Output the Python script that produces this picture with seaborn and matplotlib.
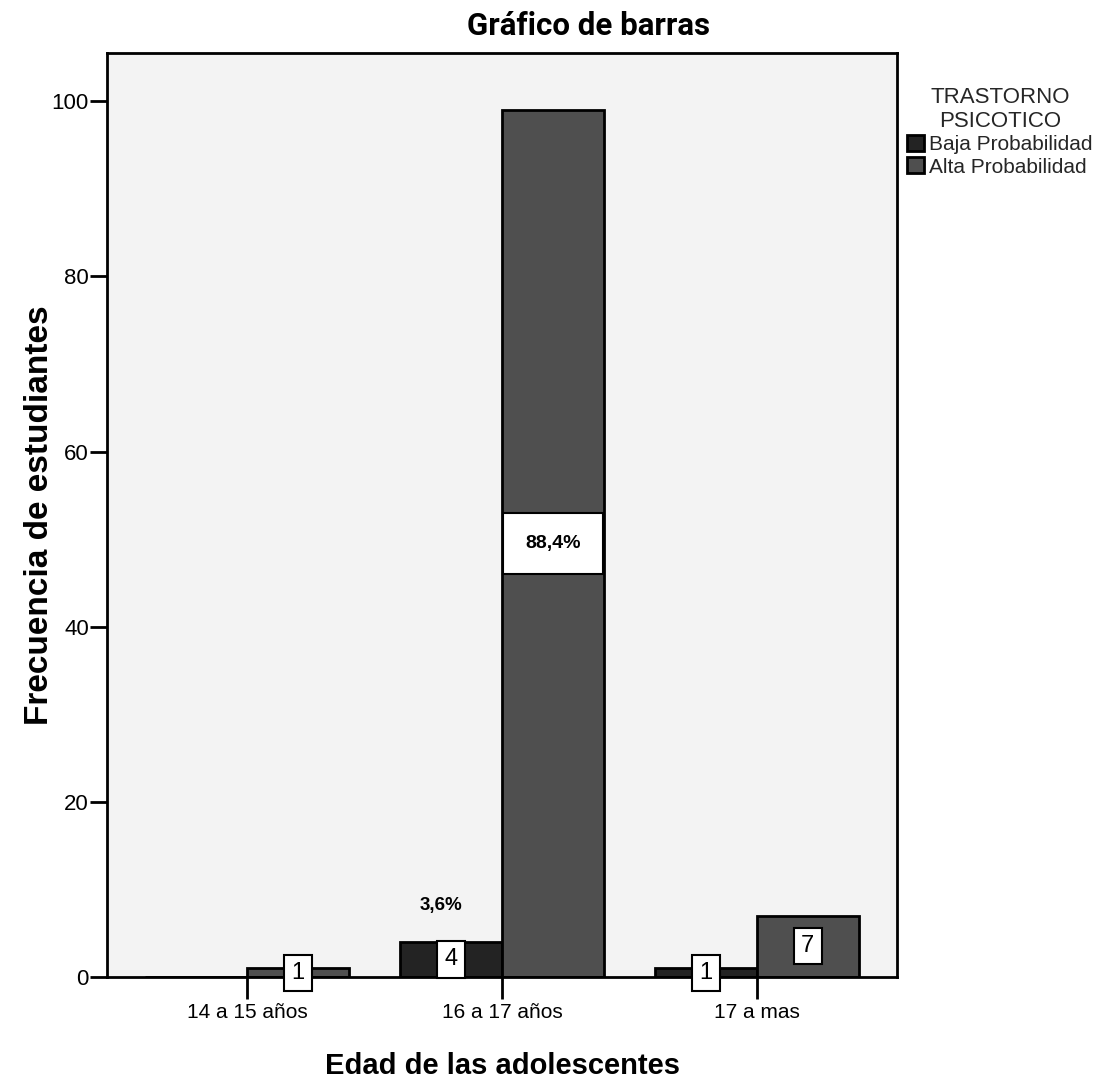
import matplotlib
matplotlib.use("Agg")
import matplotlib.pyplot as plt
import seaborn as sns
import pandas as pd

# ---- data ----
categories = ["14 a 15 años", "16 a 17 años", "17 a mas"]
series_names = ["Baja Probabilidad", "Alta Probabilidad"]
baja_values = [0, 4, 1]
alta_values = [1, 99, 7]
baja_labels = ["", "4", "1"]
alta_labels = ["1", "88,4%", "7"]
extra_note = "3,6%"
y_ticks = [0, 20, 40, 60, 80, 100]

sns.set_theme(style="white")
ARIAL = ["Liberation Sans", "DejaVu Sans"]
plt.rcParams["font.family"] = ARIAL

df = pd.DataFrame({
    "Edad": categories * 2,
    "Frecuencia": baja_values + alta_values,
    "Trastorno": [series_names[0]] * 3 + [series_names[1]] * 3,
})

fig = plt.figure(figsize=(11.01, 10.78), dpi=100)
ax = fig.add_axes([0.0972, 0.0937, 0.7175, 0.857])
ax.set_facecolor("#f3f3f3")

palette = {series_names[0]: "#232323", series_names[1]: "#4f4f4f"}
sns.barplot(data=df, x="Edad", y="Frecuencia", hue="Trastorno",
            order=categories, hue_order=series_names, palette=palette,
            edgecolor="black", linewidth=2, saturation=1, ax=ax)

ax.set_xlim(-0.55, 2.55)
ax.set_ylim(0, 105.5)
ax.set_yticks(y_ticks)
ax.set_yticklabels([str(t) for t in y_ticks])

for s in ax.spines.values():
    s.set_visible(True)
    s.set_color("black")
    s.set_linewidth(2)

ax.tick_params(axis="x", which="major", direction="out", length=16, width=2,
               color="black", labelsize=15, pad=3, bottom=True)
ax.tick_params(axis="y", which="major", direction="out", length=12, width=2,
               color="black", labelsize=16, pad=1, left=True)
for lab in ax.get_xticklabels() + ax.get_yticklabels():
    lab.set_color("black")

ax.set_xlabel("Edad de las adolescentes", fontsize=21, fontweight="bold",
              color="black")
ax.xaxis.set_label_coords(0.5, -0.081)
ax.set_ylabel("Frecuencia de estudiantes", fontsize=24, fontweight="bold",
              color="black")
ax.yaxis.set_label_coords(-0.066, 0.5)
ax.set_title("Gráfico de barras", fontsize=22.5, fontweight="bold",
             family=["Roboto", "DejaVu Sans"], pad=13, color="black",
             x=0.61)

# value labels in boxes
all_labels = [baja_labels, alta_labels]
for cont, labs in zip(ax.containers, all_labels):
    for patch, lab in zip(cont.patches, labs):
        if not lab:
            continue
        xc = patch.get_x() + patch.get_width() / 2
        yc = patch.get_height() / 2
        if "%" in lab:
            ax.text(xc, yc, lab, ha="center", va="center", fontsize=14,
                    fontweight="bold", color="black", zorder=5,
                    bbox=dict(boxstyle="square,pad=1.15", facecolor="white",
                              edgecolor="black", linewidth=1.5))
        else:
            ax.text(xc, yc, lab, ha="center", va="center", fontsize=17,
                    color="black", zorder=5, clip_on=False,
                    bbox=dict(boxstyle="square,pad=0.3", facecolor="white",
                              edgecolor="black", linewidth=1.5))

# note above the small dark bar
p = ax.containers[0].patches[1]
ax.text(p.get_x() + p.get_width() / 2 - 0.04, 8.2, extra_note, ha="center",
        va="center", fontsize=13.5, fontweight="bold", color="black")

handles, labels = ax.get_legend_handles_labels()
ax.legend(handles, labels, title="TRASTORNO\nPSICOTICO", loc="upper left",
          bbox_to_anchor=(1.0, 0.975), frameon=False,
          title_fontsize=16, handlelength=0.8, handleheight=0.8,
          handletextpad=0.25, labelspacing=0.15, borderaxespad=0.3,
          borderpad=0.2, prop={"size": 15})
leg = ax.get_legend()
leg.get_title().set_fontsize(16)
leg.get_title().set_multialignment("center")

fig.savefig("out.png", dpi=100)
